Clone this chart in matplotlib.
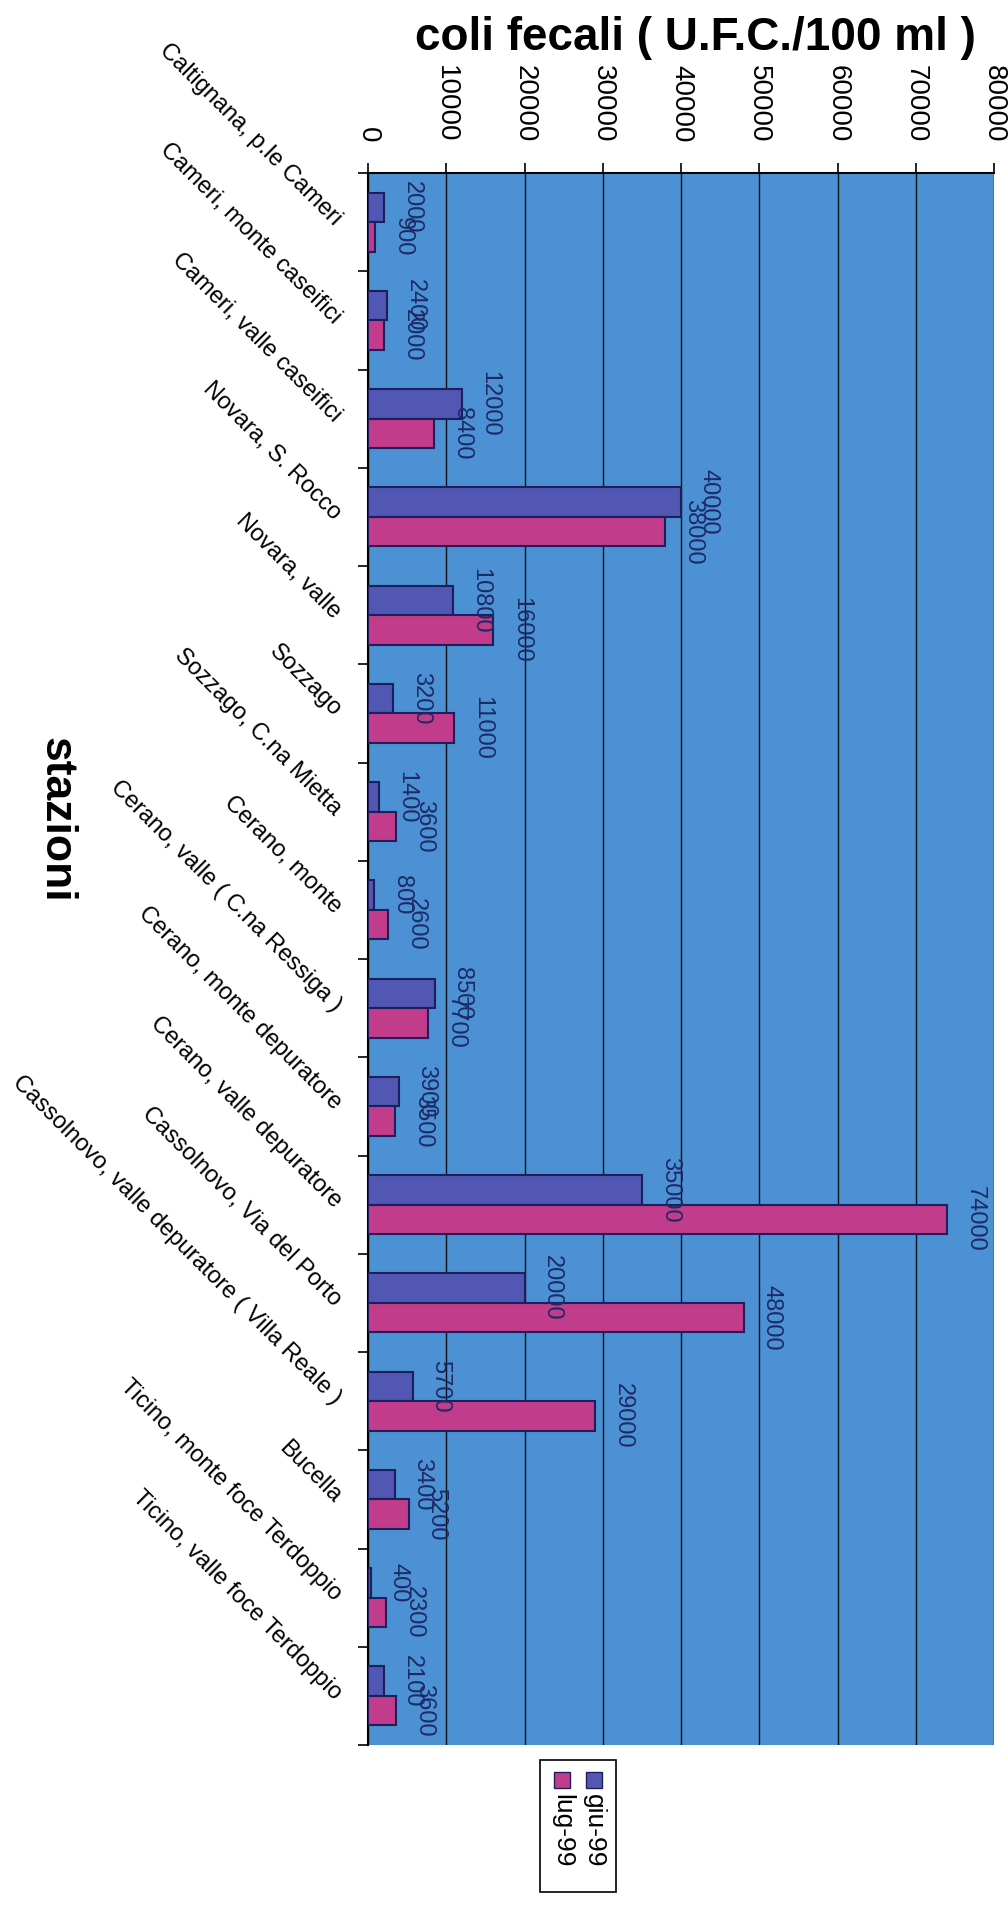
import matplotlib.pyplot as plt
import numpy as np
from matplotlib.patches import Rectangle

# dati: coli fecali (U.F.C./100 ml) per stazione
stazioni = ['Caltignana, p.le Cameri', 'Cameri, monte caseifici', 'Cameri, valle caseifici',
            'Novara, S. Rocco', 'Novara, valle', 'Sozzago', 'Sozzago, C.na Mietta',
            'Cerano, monte', 'Cerano, valle ( C.na Ressiga )', 'Cerano, monte depuratore',
            'Cerano, valle depuratore', 'Cassolnovo, Via del Porto',
            'Cassolnovo, valle depuratore ( Villa Reale )', 'Bucella',
            'Ticino, monte foce Terdoppio', 'Ticino, valle foce Terdoppio']
giu_99 = [2000, 2400, 12000, 40000, 10800, 3200, 1400, 800, 8500, 3900, 35000, 20000, 5700, 3400, 400, 2100]
lug_99 = [900, 2000, 8400, 38000, 16000, 11000, 3600, 2600, 7700, 3500, 74000, 48000, 29000, 5200, 2300, 3600]
serie = ['giu-99', 'lug-99']
colori = ['#5157b2', '#c23c8c']
tacche_x = [0, 10000, 20000, 30000, 40000, 50000, 60000, 70000, 80000]

plt.rcParams['font.family'] = ['Liberation Sans', 'DejaVu Sans']

W, H = 1008, 1914
fig = plt.figure(figsize=(W / 100, H / 100), dpi=100)
ax = fig.add_axes([368 / W, 1 - 1745 / H, (994 - 368) / W, (1745 - 173) / H])
ax.set_facecolor('#4b91d4')

y = np.arange(len(stazioni))
h = 0.3
bordo = '#1c1f5c'
b1 = ax.barh(y - h / 2, giu_99, height=h, color=colori[0], edgecolor=bordo, linewidth=1.5, zorder=3)
b2 = ax.barh(y + h / 2, lug_99, height=h, color=colori[1], edgecolor=bordo, linewidth=1.5, zorder=3)

# etichette dei valori, ruotate come nella pagina scansionata
for barre in (b1, b2):
    for rett, v in zip(barre, barre.datavalues):
        ax.annotate(f'{int(v)}', (rett.get_width(), rett.get_y() + rett.get_height() / 2),
                    xytext=(20, 0), textcoords='offset points', rotation=-90,
                    ha='center', va='center', fontsize=17, color='#1d2a66', zorder=4)

ax.set_xlim(0, 80000)
ax.set_ylim(len(stazioni) - 0.5, -0.5)
ax.xaxis.tick_top()
ax.set_xticks(tacche_x)
ax.set_xticklabels([str(t) for t in tacche_x], rotation=-90, fontsize=20, va='bottom', ha='center')
ax.tick_params(axis='x', length=7, width=1.2, pad=15)
ax.grid(axis='x', color='#111111', linewidth=1.0, zorder=1)

ax.set_yticks(y)
ax.set_yticklabels(stazioni, rotation=-45, fontsize=17, ha='right', va='center', rotation_mode='anchor')
ax.tick_params(axis='y', length=0, pad=22)
ax.set_yticks(np.arange(len(stazioni) + 1) - 0.5, minor=True)
ax.tick_params(axis='y', which='minor', length=7, width=1.2)

for lato in ['top', 'left']:
    ax.spines[lato].set_linewidth(1.5)
for lato in ['bottom', 'right']:
    ax.spines[lato].set_visible(False)

fig.text(695 / W, 1 - 38 / H, 'coli fecali ( U.F.C./100 ml )', fontsize=33, fontweight='bold',
         ha='center', va='center')
fig.text(56 / W, 1 - 820 / H, 'stazioni', fontsize=32, fontweight='bold', rotation=-90,
         ha='center', va='center')

# legenda ruotata
x0, y0, lw, lh = 540, 1760, 76, 132
fig.add_artist(Rectangle((x0 / W, 1 - (y0 + lh) / H), lw / W, lh / H, transform=fig.transFigure,
                         facecolor='white', edgecolor='black', linewidth=1.2))
for i, (nome, c) in enumerate(zip(serie, colori)):
    cx = x0 + lw - 22 - i * 32
    fig.add_artist(Rectangle(((cx - 8) / W, 1 - (y0 + 28) / H), 16 / W, 16 / H,
                             transform=fig.transFigure, facecolor=c, edgecolor=bordo, linewidth=1))
    fig.text(cx / W, 1 - (y0 + 34) / H, nome, rotation=-90, fontsize=19, ha='center', va='top')

fig.savefig('out.png', dpi=100)
